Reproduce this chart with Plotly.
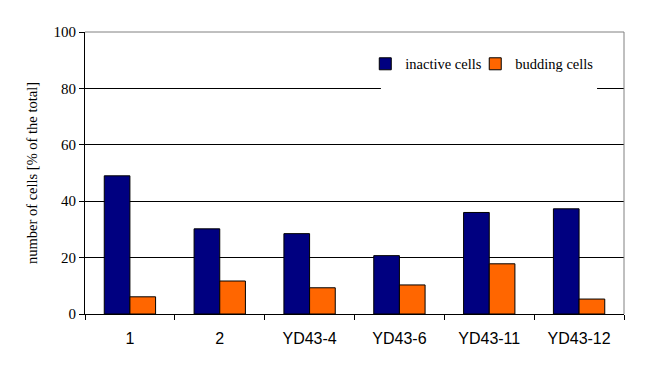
import plotly.graph_objects as go

categories = ["1", "2", "YD43-4", "YD43-6", "YD43-11", "YD43-12"]
inactive_cells = [49.0, 30.2, 28.5, 20.7, 36.0, 37.3]
budding_cells = [6.1, 11.7, 9.3, 10.3, 17.8, 5.3]
y_ticks = [0, 20, 40, 60, 80, 100]

SERIF = "Liberation Serif, Times New Roman, serif"
SANS = "Liberation Sans, Arial, sans-serif"

fig = go.Figure()
fig.add_trace(go.Bar(x=categories, y=inactive_cells, name="inactive cells", legend="legend",
                     marker=dict(color="#000080", line=dict(color="black", width=1))))
fig.add_trace(go.Bar(x=categories, y=budding_cells, name="budding cells", legend="legend2",
                     marker=dict(color="#FF6600", line=dict(color="black", width=1))))

leg_common = dict(orientation="h", yanchor="middle", xanchor="left",
                  bgcolor="rgba(0,0,0,0)", font=dict(family=SERIF, size=14.5, color="black"))

fig.update_layout(
    width=656, height=375,
    margin=dict(l=77, r=40, t=24, b=69),
    paper_bgcolor="white", plot_bgcolor="white",
    font=dict(family=SERIF, size=14, color="black"),
    barmode="group", bargap=0.4286, bargroupgap=0,
    showlegend=True,
    legend=dict(x=0.52, y=0.887, **leg_common),
    legend2=dict(x=0.724, y=0.887, **leg_common),
    xaxis=dict(type="category", showline=True, linecolor="black", linewidth=1,
               ticks="outside", tickson="boundaries", ticklen=5, tickcolor="black",
               showgrid=False, tickfont=dict(family=SANS, size=16),
               ticklabelstandoff=10),
    yaxis=dict(range=[0, 100], tickvals=y_ticks, showline=True, linecolor="black",
               linewidth=1, ticks="outside", ticklen=5, tickcolor="black",
               showgrid=True, gridcolor="black", gridwidth=1, zeroline=False,
               tickfont=dict(family=SERIF, size=15),
               title=dict(text="number of cells [% of the total]",
                          font=dict(family=SERIF, size=14.5), standoff=12)),
    shapes=[
        dict(type="rect", xref="paper", yref="paper", x0=0.549, x1=0.95, y0=0.79, y1=0.97,
             fillcolor="white", line=dict(width=0), layer="above"),
        dict(type="line", xref="paper", yref="paper", x0=0, x1=1, y0=1, y1=1,
             line=dict(color="#808080", width=1)),
        dict(type="line", xref="paper", yref="paper", x0=1, x1=1, y0=0, y1=1,
             line=dict(color="#808080", width=1)),
    ],
)

fig.write_html("out.html")
